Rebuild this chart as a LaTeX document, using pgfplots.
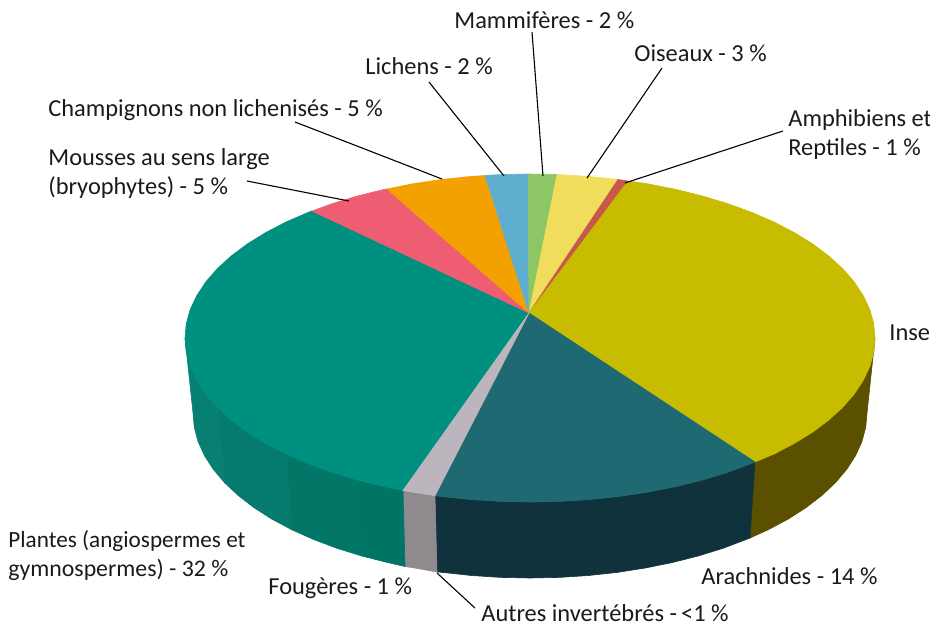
\documentclass[border=0pt]{standalone}
\usepackage{fontspec}
\setmainfont{Carlito}
\usepackage{pgfplots}
\pgfplotsset{compat=1.18}
\definecolor{cIns}{HTML}{C8BC00}
\definecolor{cInsS}{HTML}{5A5000}
\definecolor{cAra}{HTML}{1F6A72}
\definecolor{cAraS}{HTML}{10323C}
\definecolor{cFer}{HTML}{BDB5BD}
\definecolor{cFerS}{HTML}{8F8A8E}
\definecolor{cPla}{HTML}{009080}
\definecolor{cPlaA}{HTML}{078072}
\definecolor{cPlaB}{HTML}{047B6D}
\definecolor{cPlaC}{HTML}{027768}
\definecolor{cPlaD}{HTML}{007465}
\definecolor{cPin}{HTML}{EE5D71}
\definecolor{cOra}{HTML}{F3A100}
\definecolor{cBlu}{HTML}{5FAED0}
\definecolor{cGre}{HTML}{8DC664}
\definecolor{cYel}{HTML}{EFDD5B}
\definecolor{cRed}{HTML}{C8584A}
\definecolor{txt}{HTML}{1A1A1A}
\tikzset{lab/.style={anchor=west,inner sep=0pt,text=txt,font=\fontsize{12.2}{14}\selectfont}}
\pgfplotsset{wedge/.style={fill=#1,draw=#1,line width=0.3pt,no marks},
 lead/.style={draw=black,line width=0.55pt,no marks}}
\begin{document}
\begin{tikzpicture}
\useasboundingbox (0,0) rectangle (465pt,313pt);
\begin{axis}[at={(0,0)},anchor=south west,scale only axis,width=465pt,height=313pt,
 xmin=0,xmax=930,ymin=0,ymax=626,y dir=reverse,hide axis,clip=true]
% side walls
\addplot[wedge=cInsS] coordinates {(875,338)(873.7,352.3)(869.8,366.5)(863.2,380.4)(854.2,394.1)(842.7,407.3)(828.8,420)(812.6,432.1)(794.3,443.4)(774,454)(755,462)
 (750,538)(768.3,529.7)(788.2,519.1)(806.1,507.6)(821.8,495.5)(835.4,482.7)(846.7,469.4)(855.5,455.7)(861.9,441.7)(865.7,427.4)(867,413)} --cycle;
\addplot[wedge=cAraS] coordinates {(755,462)(751.8,463.6)(727.9,472.3)(702.5,480)(675.8,486.6)(648,492.1)(619.3,496.4)(589.9,499.5)(560.1,501.4)(530,502)(499.9,501.4)(470.1,499.5)(440.7,496.4)(435,495.7)
 (437,572)(442.8,572.4)(471.5,575.5)(500.6,577.4)(530,578)(559.4,577.4)(588.5,575.5)(617.2,572.4)(645.3,568)(672.4,562.5)(698.5,555.9)(723.3,548.2)(750,538)} --cycle;
\addplot[wedge=cFerS] coordinates {(435,495.7)(412,492.1)(403,490.5)(405,566.5)(414.7,568)(437,572)} --cycle;
\addplot[wedge=cPlaD] coordinates {(403,490.5)(384.2,486.6)(357.5,480)(361.5,555.9)(387.6,562.5)(405,566.5)} --cycle;
\addplot[wedge=cPlaC] coordinates {(357.5,480)(332.1,472.3)(308.2,463.6)(286,454)(291.7,529.7)(313.4,539.4)(336.7,548.2)(361.5,555.9)} --cycle;
\addplot[wedge=cPlaB] coordinates {(286,454)(265.7,443.4)(247.4,432.1)(231.2,420)(217.3,407.3)(224.6,482.7)(238.2,495.5)(253.9,507.6)(271.8,519.1)(291.7,529.7)} --cycle;
\addplot[wedge=cPlaA] coordinates {(217.3,407.3)(205.8,394.1)(196.8,380.4)(190.2,366.5)(186.3,352.3)(185,338)(193,413)(194.3,427.4)(198.1,441.7)(204.5,455.7)(213.3,469.4)(224.6,482.7)} --cycle;
% top face
\addplot[wedge=cPla] coordinates {(529,313)(403,490.5)(384.2,486.6)(357.5,480)(332.1,472.3)(308.2,463.6)(286,454)(265.7,443.4)(247.4,432.1)(231.2,420)(217.3,407.3)(205.8,394.1)(196.8,380.4)(190.2,366.5)(186.3,352.3)(185,338)(186.3,323.7)(190.2,309.5)(196.8,295.6)(205.8,281.9)(217.3,268.7)(231.2,256)(247.4,243.9)(265.7,232.6)(286,222)(308.2,212.4)(312,211)} --cycle;
\addplot[wedge=cPin] coordinates {(529,313)(312,211)(332.1,203.7)(357.5,196)(384.2,189.4)(387,189)} --cycle;
\addplot[wedge=cOra] coordinates {(529,313)(387,189)(412,183.9)(440.7,179.6)(470.1,176.5)(485,175.5)} --cycle;
\addplot[wedge=cBlu] coordinates {(529,313)(485,175.5)(499.9,174.6)(528,174)} --cycle;
\addplot[wedge=cGre] coordinates {(529,313)(528,174)(557,174.5)} --cycle;
\addplot[wedge=cYel] coordinates {(529,313)(557,174.5)(589.9,176.5)(618,179.5)} --cycle;
\addplot[wedge=cRed] coordinates {(529,313)(618,179.5)(628,181)} --cycle;
\addplot[wedge=cIns] coordinates {(529,313)(628,181)(648,183.9)(675.8,189.4)(702.5,196)(727.9,203.7)(751.8,212.4)(774,222)(794.3,232.6)(812.6,243.9)(828.8,256)(842.7,268.7)(854.2,281.9)(863.2,295.6)(869.8,309.5)(873.7,323.7)(875,338)(873.7,352.3)(869.8,366.5)(863.2,380.4)(854.2,394.1)(842.7,407.3)(828.8,420)(812.6,432.1)(794.3,443.4)(774,454)(755,462)} --cycle;
\addplot[wedge=cAra] coordinates {(529,313)(755,462)(727.9,472.3)(702.5,480)(675.8,486.6)(648,492.1)(619.3,496.4)(589.9,499.5)(560.1,501.4)(530,502)(499.9,501.4)(470.1,499.5)(440.7,496.4)(435,495.7)} --cycle;
\addplot[wedge=cFer] coordinates {(529,313)(435,495.7)(412,492.1)(403,490.5)} --cycle;
% leaders
\addplot[lead] coordinates {(532,32)(543,176)};
\addplot[lead] coordinates {(662,68)(587,178)};
\addplot[lead] coordinates {(429,82)(504,176)};
\addplot[lead] coordinates {(295,122)(442,179)};
\addplot[lead] coordinates {(247,181)(349,201)};
\addplot[lead] coordinates {(783,131)(625,183)};
\addplot[lead] coordinates {(437,573)(475,608)};
% labels
\node[lab] at (axis cs:454,20) {Mammifères - 2 \%};
\node[lab] at (axis cs:634,53) {Oiseaux - 3 \%};
\node[lab] at (axis cs:365,66) {Lichens - 2 \%};
\node[lab] at (axis cs:48,110) {Champignons non lichenisés - 5 \%};
\node[lab] at (axis cs:48,159) {Mousses au sens large};
\node[lab] at (axis cs:48,188) {(bryophytes) - 5 \%};
\node[lab] at (axis cs:788,120) {Amphibiens et};
\node[lab] at (axis cs:788,149) {Reptiles - 1 \%};
\node[lab] at (axis cs:889,333) {Inse};
\node[lab,font=\fontsize{11.6}{14}\selectfont] at (axis cs:8,541) {Plantes (angiospermes et};
\node[lab,font=\fontsize{11.9}{14}\selectfont] at (axis cs:8,570) {gymnospermes) - 32 \%};
\node[lab] at (axis cs:268,588) {Fougères - 1 \%};
\node[lab] at (axis cs:701,576) {Arachnides - 14 \%};
\node[lab] at (axis cs:481,613) {Autres invertébrés -\,{<}1 \%};
\end{axis}
\end{tikzpicture}
\end{document}
